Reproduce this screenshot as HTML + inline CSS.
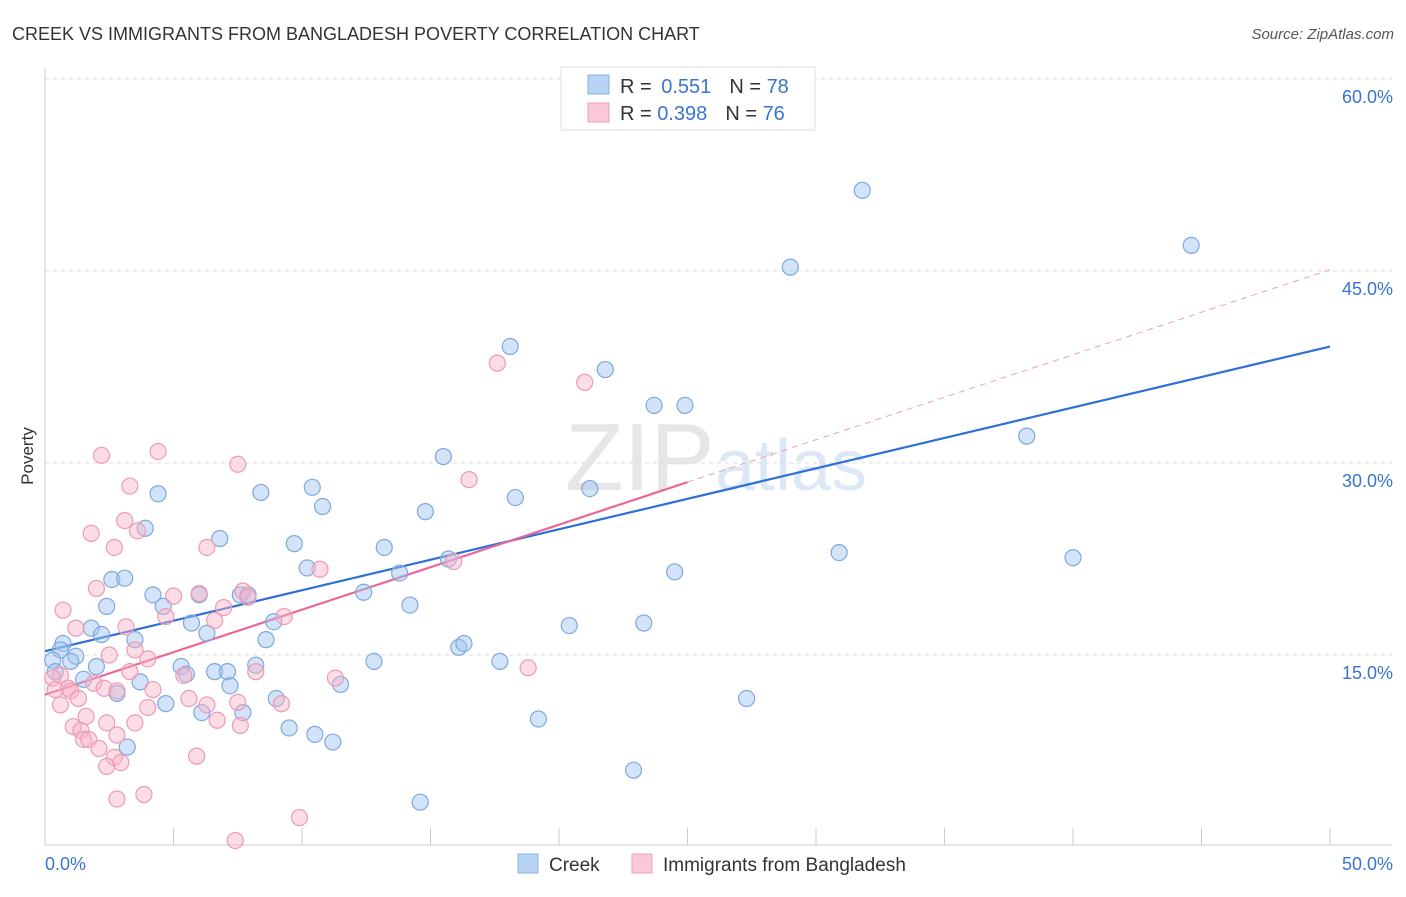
<!DOCTYPE html>
<html><head><meta charset="utf-8"><style>
body{margin:0;background:#fff;font-family:"Liberation Sans",sans-serif;}
svg text{font-family:"Liberation Sans",sans-serif;}
</style></head><body>
<svg id="chart" width="1406" height="892" viewBox="0 0 1406 892">
<text x="12" y="40" font-size="18" fill="#333">CREEK VS IMMIGRANTS FROM BANGLADESH POVERTY CORRELATION CHART</text>
<text x="1394" y="39" font-size="15" fill="#555" font-style="italic" text-anchor="end">Source: ZipAtlas.com</text>
<text x="565" y="490" font-size="96" fill="#e6e6e6" font-family="Liberation Serif">ZIP</text>
<text x="715" y="490" font-size="72" fill="#dce8f6">atlas</text>
<g id="grid"></g>
<g id="axes"></g>
<g id="lines"></g>
<g id="points"></g>
<text transform="translate(33,456) rotate(-90)" font-size="17" fill="#333" text-anchor="middle">Poverty</text>
<g>
<rect x="561" y="67" width="254" height="63" fill="#fff" stroke="#ddd"/>
<rect x="588" y="75" width="21" height="19" fill="#b9d3f5" stroke="#8ab0e6"/>
<rect x="588" y="103" width="21" height="19" fill="#fbc8d7" stroke="#f0a0b8"/>
<text x="620" y="93" font-size="20" fill="#333">R = <tspan fill="#3a74d0" dx="4">0.551</tspan><tspan dx="18">N = </tspan><tspan fill="#3a74d0">78</tspan></text>
<text x="620" y="120" font-size="20" fill="#333">R = <tspan fill="#3a74d0">0.398</tspan><tspan dx="18">N = </tspan><tspan fill="#3a74d0">76</tspan></text>
</g>
<g>
<rect x="518" y="854" width="20" height="19" fill="#b9d3f5" stroke="#8ab0e6"/>
<text x="549" y="871" font-size="19" fill="#333">Creek</text>
<rect x="632" y="854" width="20" height="19" fill="#fbc8d7" stroke="#f0a0b8"/>
<text x="663" y="871" font-size="19" fill="#333">Immigrants from Bangladesh</text>
</g>
</svg>
<script>
const yTicks=[15,30,45,60];
const yTickLabels=["15.0%","30.0%","45.0%","60.0%"];
const xTicks=[0,5,10,15,20,25,30,35,40,45,50];
const creekX=[31.8,44.6,29.0,18.1,21.8,23.7,24.9,38.2,15.5,4.4,10.4,8.4,10.8,18.3,21.2,14.8,3.9,6.8,9.7,13.2,30.9,40.0,15.7,10.2,13.8,24.5,2.6,3.1,4.2,6.0,7.6,7.9,12.4,2.4,4.6,14.2,5.7,8.9,20.4,23.3,6.3,1.8,2.2,3.5,8.6,0.7,16.1,16.3,0.6,1.2,0.3,1.0,2.0,5.3,8.2,12.8,17.7,5.5,6.6,7.1,0.4,1.5,3.7,7.2,11.5,2.8,9.0,27.3,4.7,6.1,7.7,19.2,9.5,10.5,11.2,3.2,22.9,14.6];
const creekY=[51.3,47.0,45.3,39.1,37.3,34.5,34.5,32.1,30.5,27.6,28.1,27.7,26.6,27.3,28.0,26.2,24.9,24.1,23.7,23.4,23.0,22.6,22.5,21.8,21.4,21.5,20.9,21.0,19.7,19.7,19.7,19.7,19.9,18.8,18.8,18.9,17.5,17.6,17.3,17.5,16.7,17.1,16.6,16.2,16.2,15.9,15.6,15.9,15.4,14.9,14.6,14.5,14.1,14.1,14.2,14.5,14.5,13.5,13.7,13.7,13.7,13.1,12.9,12.6,12.7,12.0,11.6,11.6,11.2,10.5,10.5,10.0,9.3,8.8,8.2,7.8,6.0,3.5];
const bangX=[17.6,21.0,4.4,2.2,7.5,16.5,3.3,3.1,1.8,3.6,6.3,2.7,15.9,10.7,2.0,7.7,6.0,5.0,7.9,0.7,6.95,4.7,9.3,6.6,1.2,3.15,3.5,2.5,4.0,8.2,3.3,5.4,0.6,0.3,11.3,18.8,1.9,0.9,0.4,2.3,4.2,1.0,2.8,5.6,1.3,7.5,9.2,0.6,6.3,4.0,1.6,6.7,2.4,3.5,7.6,1.1,1.4,2.8,1.5,1.7,2.1,5.9,2.7,2.95,2.4,3.85,2.8,9.9,7.4];
const bangY=[37.8,36.3,30.9,30.6,29.9,28.7,28.2,25.5,24.5,24.7,23.4,23.4,22.3,21.7,20.2,20.0,19.8,19.6,19.5,18.5,18.7,18.0,18.0,17.7,17.1,17.2,15.4,15.0,14.7,13.7,13.7,13.4,13.4,13.2,13.2,14.0,12.8,12.4,12.3,12.4,12.3,12.2,12.2,11.6,11.6,11.3,11.2,11.1,11.1,10.9,10.2,9.9,9.7,9.7,9.5,9.4,9.1,8.75,8.4,8.4,7.7,7.1,7.0,6.6,6.3,4.1,3.75,2.3,0.5];
const creekTrend=[15.3,39.1];
const bangTrend=[11.9,45.1];
const NS="http://www.w3.org/2000/svg";
const X=v=>45+v*25.7;
const Y=v=>847-v*12.8;
function mk(tag,attrs,parent){const e=document.createElementNS(NS,tag);for(const k in attrs)e.setAttribute(k,attrs[k]);document.getElementById(parent).appendChild(e);return e;}
yTicks.forEach((t,i)=>{
 const g=mk('line',{x1:45,x2:1392,y1:Y(t),y2:Y(t),stroke:'#ddd','stroke-dasharray':'4,4'},'grid');
 
 
 const l=mk('text',{x:1393,y:Y(t)+24,'font-size':18,fill:'#3a74d0','text-anchor':'end'},'grid');
 l.textContent=yTickLabels[i];
 
 
});
const la=mk('line',{x1:45,x2:45,y1:68,y2:845,stroke:'#ccc'},'axes');


const ba=mk('line',{x1:45,x2:1392,y1:845,y2:845,stroke:'#ccc'},'axes');


xTicks.forEach(t=>{if(t===0)return;
 const tk=mk('line',{x1:X(t),x2:X(t),y1:828,y2:845,stroke:'#ccc'},'axes');
 
 
});
const x0=mk('text',{x:45,y:870,'font-size':18,fill:'#3a74d0'},'axes');x0.textContent='0.0%';


const x1=mk('text',{x:1393,y:870,'font-size':18,fill:'#3a74d0','text-anchor':'end'},'axes');x1.textContent='50.0%';


const pd=mk('line',{x1:X(25),y1:Y(bangTrend[0]+(bangTrend[1]-bangTrend[0])/2),x2:X(50),y2:Y(bangTrend[1]),stroke:'#eaa0b8','stroke-dasharray':'6,5'},'lines');


function dots(xs,ys,fill,stroke,name){xs.forEach((v,i)=>{
 const c=mk('circle',{cx:X(v),cy:Y(ys[i]),r:8,fill:fill,stroke:stroke,'stroke-width':1.2},'points');
 
 
});}
dots(creekX,creekY,'rgba(160,195,240,0.45)','#7fa8e0','creek-point');
dots(bangX,bangY,'rgba(248,180,200,0.45)','#ec9ab5','bangladesh-point');
const cl=mk('line',{x1:X(0),y1:Y(creekTrend[0]),x2:X(50),y2:Y(creekTrend[1]),stroke:'#2f6fd6','stroke-width':2.2},'lines');


const pl=mk('line',{x1:X(0),y1:Y(bangTrend[0]),x2:X(25),y2:Y(bangTrend[0]+(bangTrend[1]-bangTrend[0])/2),stroke:'#e8689a','stroke-width':2.2},'lines');


</script>
</body></html>
